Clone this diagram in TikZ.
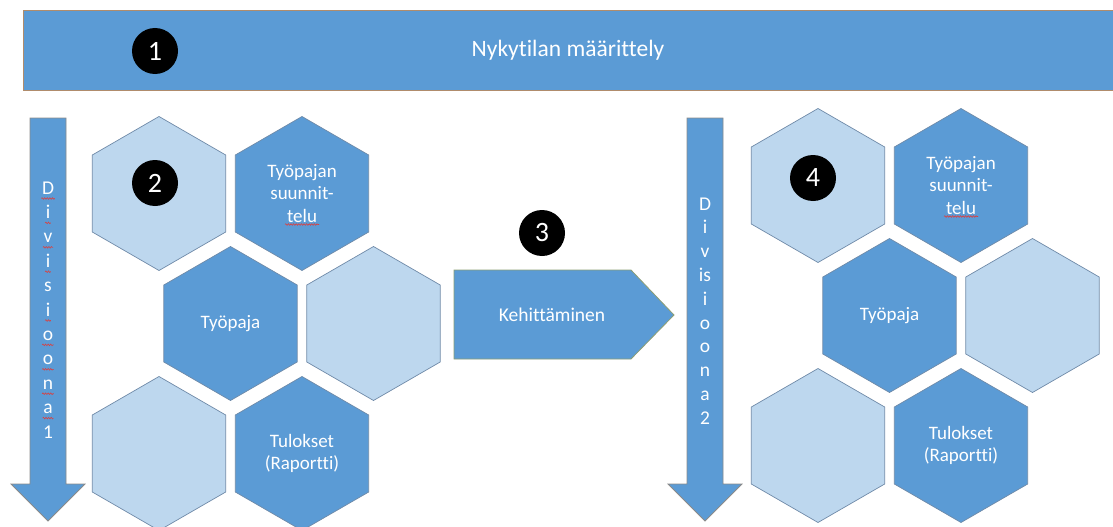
\documentclass[tikz,border=0pt]{standalone}
\usepackage{fontspec}
\setmainfont{Carlito}[Ligatures=NoCommon]
\usetikzlibrary{shapes.geometric,decorations.pathmorphing}

\definecolor{accent}{HTML}{5B9BD5}
\definecolor{accentlight}{HTML}{BDD7EE}
\definecolor{hexline}{HTML}{6F8AA8}
\definecolor{bannerline}{HTML}{B08C6C}
\definecolor{arrowline}{HTML}{8A8A8A}
\definecolor{stepline}{HTML}{8C9E74}
\definecolor{spellred}{HTML}{D94040}

\tikzset{
  hexbase/.style={regular polygon, regular polygon sides=6, shape border rotate=30,
    minimum size=154pt, inner sep=0pt, outer sep=0pt, draw=hexline, line width=0.7pt,
    text=white, align=center, font=\fontsize{19}{22.5}\selectfont},
  hexdark/.style={hexbase, fill=accent},
  hexlight/.style={hexbase, fill=accentlight},
  numdot/.style={circle, fill=black, minimum size=46pt, inner sep=0pt, text=white,
    font=\fontsize{28}{28}\selectfont},
  letter/.style={anchor=base, inner sep=0pt, text=white, font=\fontsize{19.5}{20}\selectfont},
  labeltext/.style={text=white, inner sep=0pt},
  downarrow/.style={fill=accent, draw=arrowline, line width=0.8pt},
  squiggle/.style={draw=spellred, line width=0.6pt, decorate,
    decoration={snake, segment length=2.6pt, amplitude=0.8pt}},
}

\begin{document}
\begin{tikzpicture}[x=1pt, y=-1pt]
\useasboundingbox (0,0) rectangle (1113,527);

% banner across the top
\fill[accent] (23,10) rectangle (1113,90);
\draw[bannerline, line width=0.8pt] (1113,10) -- (23,10) -- (23,90) -- (1113,90);
\node[labeltext, font=\fontsize{23.5}{24}\selectfont] (title) at (568,50) {Nykytilan määrittely};
\node[numdot] (n1) at (155,51) {1};

% left division arrow
\draw[downarrow] (30,118) -- (66,118) -- (66,484) -- (85,484) -- (48,521)
  -- (11,484) -- (30,484) -- cycle;
\foreach \ch [count=\k] in {D,i,v,i,s,i,o,o,n,a,1}
  \node[letter] (la\k) at (48,{194+24.4*(\k-1)}) {\ch};
\foreach \k in {1,2,3,4,6,7,8,9,10}
  \draw[squiggle] ([xshift=-0.5pt,yshift=-4.5pt]la\k.base west) -- ([xshift=0.5pt,yshift=-4.5pt]la\k.base east);

% left hexagon cluster
\node[hexlight] (a1) at (159,193.5) {};
\node[hexdark]  (a2) at (302,193.5) {Työpajan\\suunnit-\\telu};
\node[hexdark]  (a3) at (230.5,323.5) {Työpaja};
\node[hexlight] (a4) at (373.5,323.5) {};
\node[hexlight] (a5) at (159,453.5) {};
\node[hexdark]  (a6) at (302,453.5) {Tulokset\\(Raportti)};
\draw[squiggle] ([xshift=-17pt,yshift=-31pt]a2.center) -- ([xshift=17pt,yshift=-31pt]a2.center);
\node[numdot] (n2) at (155,183) {2};

% development step
\draw[fill=accent, draw=stepline, line width=0.8pt]
  (454,270) -- (631,270) -- (674,315) -- (631,359) -- (454,359) -- cycle;
\node[labeltext, font=\fontsize{19.5}{20}\selectfont] (step3) at (552,315) {Kehittäminen};
\node[numdot] (n3) at (542,233) {3};

% right division arrow
\draw[downarrow] (687,118) -- (723,118) -- (723,484) -- (742,484) -- (705,521)
  -- (668,484) -- (687,484) -- cycle;
\foreach \ch [count=\k] in {D,i,v,is,i,o,o,n,a,2}
  \node[letter] (lb\k) at (705,{210+23.8*(\k-1)}) {\ch};

% right hexagon cluster
\node[hexlight] (b1) at (818,185.5) {};
\node[hexdark]  (b2) at (961,185.5) {Työpajan\\suunnit-\\telu};
\node[hexdark]  (b3) at (889.5,315.5) {Työpaja};
\node[hexlight] (b4) at (1032.5,315.5) {};
\node[hexlight] (b5) at (818,445.5) {};
\node[hexdark]  (b6) at (961,445.5) {Tulokset\\(Raportti)};
\draw[squiggle] ([xshift=-17pt,yshift=-31pt]b2.center) -- ([xshift=17pt,yshift=-31pt]b2.center);
\node[numdot] (n4) at (813,178) {4};
\end{tikzpicture}
\end{document}
